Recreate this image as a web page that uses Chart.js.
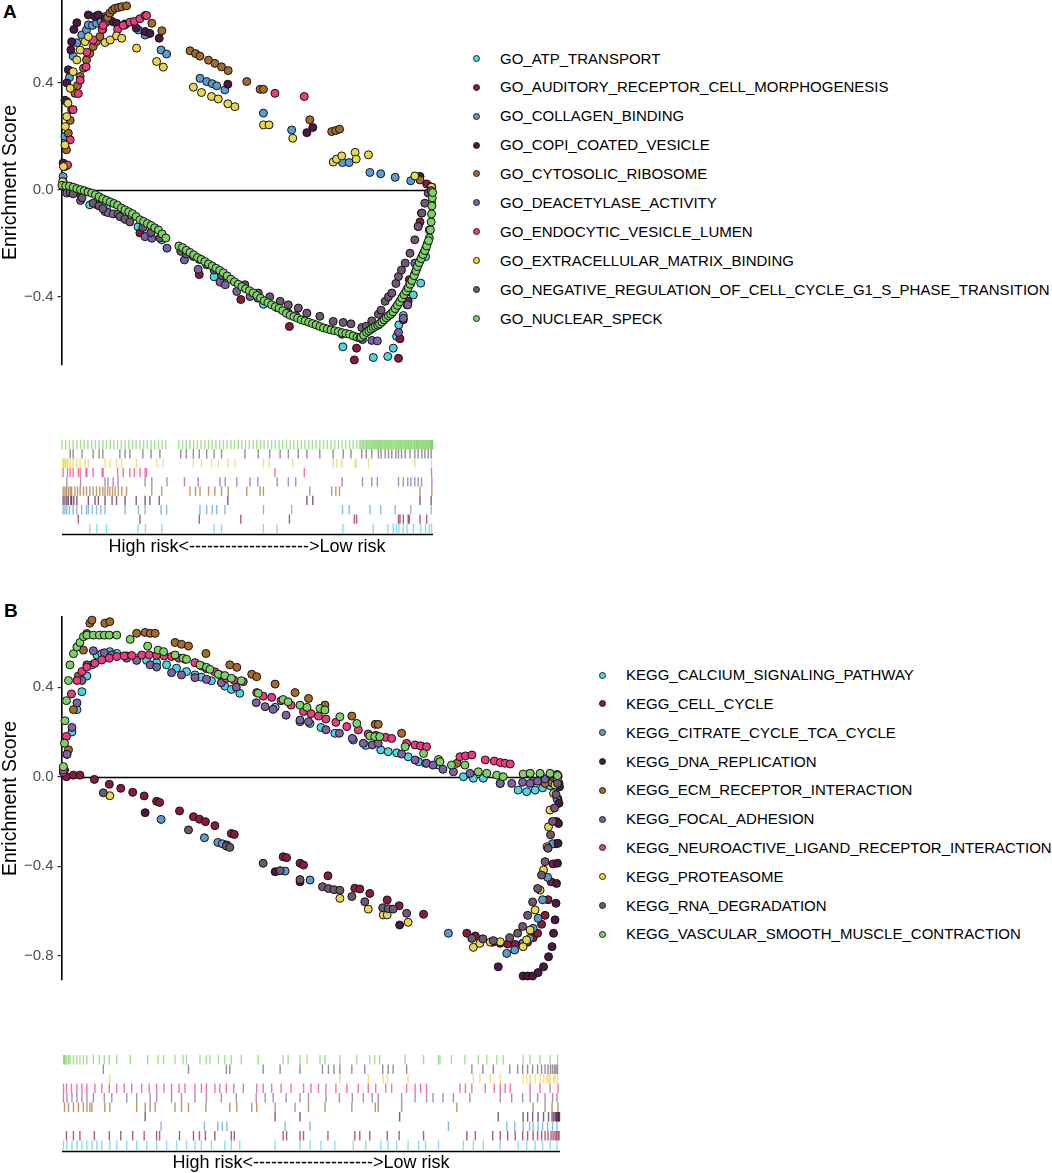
<!DOCTYPE html>
<html><head><meta charset="utf-8">
<script src="https://cdn.jsdelivr.net/npm/chart.js@4.4.0/dist/chart.umd.min.js"></script>
<style>
body{margin:0;background:#fff;font-family:"Liberation Sans",Arial,sans-serif;}
#wrap{position:relative;width:1052px;height:1173px;overflow:hidden;background:#fff;}
canvas{position:absolute;}
.panel{position:absolute;font-weight:bold;font-size:19px;line-height:22px;color:#000;}
.legtxt{position:absolute;font-size:15px;line-height:18px;color:#000;white-space:nowrap;}
.dot{position:absolute;width:5px;height:5px;border-radius:50%;border:1px solid #222;}
.risk{position:absolute;font-size:18px;line-height:22px;text-align:center;white-space:nowrap;color:#000;}
</style></head><body>
<div id="wrap">
  <div class="panel" style="left:3px;top:1px">A</div>
  <div class="panel" style="left:4px;top:600px">B</div>
  <canvas id="sA" width="453" height="405" style="left:0;top:-20px"></canvas>
  <canvas id="rA" width="453" height="133" style="left:0;top:420px"></canvas>
  <canvas id="sB" width="580" height="403" style="left:0;top:597px"></canvas>
  <canvas id="rB" width="580" height="135" style="left:0;top:1035px"></canvas>
  <div class="risk" id="riskA" style="left:47px;width:400px;top:535px"></div>
  <div class="risk" id="riskB" style="left:111px;width:400px;top:1151px"></div>
</div>
<script>
// ---------- shared ----------
const seriesColors = ['#50D3E5','#8A1B3C','#5B9CD2','#4A1A45','#A46B2B','#7D63A6','#EC3B7E','#E9D64E','#6F5871','#7CD264'];
const riskLabel = 'High risk<-------------------->Low risk';
const yTitle = 'Enrichment Score';

// ---------- Panel A (GO) ----------
const namesA = ['GO_ATP_TRANSPORT','GO_AUDITORY_RECEPTOR_CELL_MORPHOGENESIS','GO_COLLAGEN_BINDING','GO_COPI_COATED_VESICLE','GO_CYTOSOLIC_RIBOSOME','GO_DEACETYLASE_ACTIVITY','GO_ENDOCYTIC_VESICLE_LUMEN','GO_EXTRACELLULAR_MATRIX_BINDING','GO_NEGATIVE_REGULATION_OF_CELL_CYCLE_G1_S_PHASE_TRANSITION','GO_NUCLEAR_SPECK'];
const yTicksA = [-0.4, 0, 0.4];
const yRangeA = [-0.655, 0.71];

const goAtpX = [7.5,9.4,12,20.5,22.5,26.9,41,43,54.3,58,75.7,83.9,87.8,89.3,90.2,90.8,92,93,94.7,96.7,98,99,99.6];
const goAtpY = [-0.056,-0.056,-0.07,-0.138,-0.15,-0.187,-0.325,-0.345,-0.428,-0.44,-0.587,-0.627,-0.623,-0.592,-0.548,-0.505,-0.47,-0.43,-0.393,-0.349,-0.25,-0.15,-0.05];
const goAudX = [4.4,21,37,48.2,61.3,78.8,79.4,90.7,91.1,92,93.3,93.6,96.5,98.3];
const goAudY = [-0.01,-0.161,-0.317,-0.41,-0.511,-0.636,-0.592,-0.63,-0.557,-0.486,-0.417,-0.336,-0.12,0.022];
const goColX = [0.3,0.8,1.3,2,3,4,5.3,6.6,7.1,8.2,9.3,10.5,11.6,17,20.6,22.4,26.7,28.2,37.2,39,40.5,41.7,43.9,54.3,61.9,75.6,77.4,83,85.9,89.8,94,99.5];
const goColY = [0.05,0.2,0.33,0.42,0.5,0.55,0.579,0.598,0.617,0.615,0.623,0.63,0.648,0.617,0.598,0.579,0.523,0.508,0.417,0.405,0.397,0.389,0.374,0.287,0.224,0.102,0.102,0.065,0.06,0.047,0.034,0.01];
const goCopiX = [0.3,0.8,1.3,1.7,2.4,2.6,3.2,4,7.1,8.9,9.8,11.6,13.5,14.7,17,20,22.4,23.7,26.2,44.7,66,67.6,96.5,99.5];
const goCopiY = [0.1,0.335,0.4,0.449,0.523,0.554,0.6,0.625,0.654,0.648,0.654,0.64,0.63,0.623,0.62,0.605,0.592,0.585,0.567,0.395,0.214,0.233,0.05,0.01];
const goCytoX = [0.3,0.8,1.2,1.7,2.2,2.6,3.5,4.2,4.9,5.8,6.6,7.5,8.4,9.3,10.2,11,11.6,12.3,12.9,13.6,14.3,15.2,16.1,17.4,24.2,26.9,34.5,36,37.2,39.5,41.2,43,44.8,49.8,53.4,54.3,66.8,72.7,73.8,74.8,96.5,99.7];
const goCytoY = [0.03,0.087,0.15,0.212,0.26,0.3,0.361,0.39,0.424,0.455,0.486,0.51,0.536,0.555,0.573,0.6,0.623,0.645,0.661,0.672,0.679,0.682,0.685,0.688,0.623,0.595,0.52,0.51,0.5,0.485,0.473,0.46,0.446,0.405,0.376,0.376,0.262,0.218,0.222,0.227,0.037,0.01];
const goDeacX = [1.3,5,11.6,12.4,13.8,15.1,22.4,24.2,28.3,33,36.7,42.6,44,47.1,50.7,52.8,58,61,63,75.5,81,83.5,85,90.7,92,93.2,94,95.1,96,96.9,99.7];
const goDeacY = [-0.012,-0.04,-0.081,-0.085,-0.09,-0.091,-0.175,-0.181,-0.218,-0.262,-0.297,-0.345,-0.355,-0.38,-0.399,-0.405,-0.44,-0.46,-0.47,-0.54,-0.56,-0.563,-0.565,-0.533,-0.48,-0.43,-0.35,-0.274,-0.137,-0.087,-0.002];
const goEndoX = [0.3,1.5,2.2,3,4.4,4.9,6.5,6.7,8.4,10.8,11.1,15,16.5,18.3,19.5,21,22.4,22.8,57.4,65.3,99.6];
const goEndoY = [0.02,0.093,0.187,0.3,0.36,0.41,0.46,0.515,0.56,0.6,0.615,0.6,0.615,0.627,0.63,0.64,0.652,0.652,0.361,0.349,0.01];
const goEcmX = [0.2,0.4,0.8,0.9,1.3,1.6,2.2,3,4,4.9,6.2,7.1,11.6,13,14.7,16.1,20.1,25.5,27.3,35.4,37.6,40.3,42.1,44.7,46.6,54.3,55.8,62.2,73.1,74,75.4,79,79.3,82.6,95.1,99.6];
const goEcmY = [0.03,0.087,0.168,0.237,0.274,0.324,0.38,0.442,0.486,0.523,0.554,0.573,0.551,0.56,0.576,0.567,0.53,0.48,0.459,0.384,0.364,0.349,0.34,0.322,0.311,0.243,0.243,0.193,0.104,0.115,0.127,0.14,0.115,0.131,0.052,0.01];
const goNegX = [2.2,3,5.4,8.4,10,11,15.6,17,18.3,21.8,24,26.4,32,33.5,35.4,37,39,41,43,49.3,52.9,56,58.8,61,63.7,66,69.5,73.1,75.8,77.9,80.8,82,83.5,85.3,86,87.1,88,88.9,90,90.7,91.5,92.5,93.8,95.1,96,97,97.8,98.7,99.5];
const goNegY = [-0.01,-0.015,-0.03,-0.05,-0.06,-0.07,-0.1,-0.11,-0.12,-0.14,-0.16,-0.18,-0.23,-0.24,-0.249,-0.26,-0.28,-0.3,-0.32,-0.355,-0.386,-0.4,-0.417,-0.43,-0.442,-0.461,-0.473,-0.492,-0.496,-0.501,-0.515,-0.51,-0.49,-0.465,-0.45,-0.417,-0.4,-0.386,-0.35,-0.324,-0.3,-0.274,-0.237,-0.187,-0.137,-0.087,-0.05,-0.012,-0.003];
const goNucX = [0,1,2,3,4,5,6,7,8,9,10,11,12,13,14,15,16,17,18,19,20,21,22,23,24,25,26,27,28,
  31.5,32.5,33.5,34.5,35.5,36.5,37.5,38.5,39.5,40.5,41.5,42.5,43.5,44.5,45.5,46.5,47.5,48.5,49.5,50.5,51.5,52.5,53.5,54.5,55.5,56.5,57.5,58.5,59.5,60.5,61.5,62.5,63.5,64.5,65.5,66.5,67.5,68.5,69.5,70.5,71.5,72.5,73.5,74.5,75.5,76.5,77.5,78.5,79.5,80.3,
  81,81.7,82.4,83,83.6,84.2,84.8,85.3,85.9,86.5,87.1,87.7,88.3,88.9,89.5,90.1,90.7,91.3,91.9,92.5,93,93.5,94,94.6,95.1,95.6,96,96.5,97,97.5,98,98.5,99,99.3,99.5,99.6,99.7,99.8,99.9,
  80.6,81.3,82.1,82.7,83.3,83.9,84.5,85.1,85.6,86.2,86.8,87.4,88,88.6,89.2,89.8,90.4,91,91.6,92.2,92.8,93.3,93.8,94.3,94.9,95.4,95.8,96.3,96.8,97.3,97.8,98.3,98.8];
const goNucY = [0.017,0.015,0.014,0.01,0.005,0.001,-0.003,-0.008,-0.012,-0.018,-0.026,-0.033,-0.039,-0.045,-0.051,-0.058,-0.068,-0.075,-0.082,-0.089,-0.1,-0.112,-0.118,-0.126,-0.133,-0.142,-0.15,-0.165,-0.18,
  -0.21,-0.216,-0.226,-0.234,-0.243,-0.253,-0.26,-0.268,-0.277,-0.285,-0.293,-0.301,-0.31,-0.322,-0.334,-0.344,-0.353,-0.362,-0.37,-0.377,-0.385,-0.395,-0.405,-0.415,-0.422,-0.43,-0.437,-0.443,-0.452,-0.462,-0.469,-0.474,-0.48,-0.486,-0.49,-0.495,-0.5,-0.505,-0.511,-0.516,-0.52,-0.524,-0.527,-0.53,-0.534,-0.537,-0.54,-0.546,-0.551,-0.554,
  -0.548,-0.536,-0.53,-0.524,-0.518,-0.513,-0.508,-0.505,-0.497,-0.49,-0.481,-0.475,-0.468,-0.461,-0.45,-0.438,-0.425,-0.412,-0.398,-0.386,-0.372,-0.36,-0.347,-0.33,-0.312,-0.295,-0.28,-0.265,-0.25,-0.235,-0.22,-0.2,-0.18,-0.15,-0.12,-0.09,-0.06,-0.03,-0.01,
  -0.551,-0.543,-0.533,-0.527,-0.521,-0.515,-0.51,-0.506,-0.501,-0.494,-0.486,-0.478,-0.471,-0.465,-0.456,-0.444,-0.432,-0.419,-0.405,-0.392,-0.379,-0.366,-0.353,-0.339,-0.321,-0.303,-0.287,-0.272,-0.257,-0.242,-0.227,-0.21,-0.19];

// ---------- Panel B (KEGG) ----------
const namesB = ['KEGG_CALCIUM_SIGNALING_PATHWAY','KEGG_CELL_CYCLE','KEGG_CITRATE_CYCLE_TCA_CYCLE','KEGG_DNA_REPLICATION','KEGG_ECM_RECEPTOR_INTERACTION','KEGG_FOCAL_ADHESION','KEGG_NEUROACTIVE_LIGAND_RECEPTOR_INTERACTION','KEGG_PROTEASOME','KEGG_RNA_DEGRADATION','KEGG_VASCULAR_SMOOTH_MUSCLE_CONTRACTION'];
const yTicksB = [-0.8, -0.4, 0, 0.4];
const yRangeB = [-0.909, 0.714];

const keggCalX = [0.3,1,2,3,4,5,6,7,8,9.6,11,13,15,17,19,21,23,25,26.7,28,30,32.7,34,35.7,42.8,47.8,49.8,52,54.8,58.5,61,64,65.5,67.2,69.5,71.6,73,75.6,80.6,82.6,84.6,88,91.6,93.3,95,96.5,98,99.4];
const keggCalY = [0.02,0.1,0.2,0.3,0.38,0.45,0.5,0.544,0.55,0.559,0.551,0.54,0.53,0.52,0.51,0.5,0.485,0.47,0.455,0.445,0.429,0.405,0.39,0.373,0.31,0.246,0.238,0.22,0.194,0.164,0.14,0.12,0.112,0.107,0.089,0.067,0.06,0.052,0,-0.007,-0.007,-0.03,-0.06,-0.067,-0.06,-0.05,-0.04,-0.01];
const keggCellX = [0.9,2.3,3.6,6.5,9.5,11.8,14.2,16.5,19,19.6,23.6,26.4,27.6,28.8,30.7,34,34.6,44.4,45.1,47.8,48.5,53.4,58.8,59.8,61.8,65.3,67.7,72.6,81.3,83,86.5,88,89.5,91,92.5,93.5,94.6,95.5,96.3,97,97.6,98.2,98.6,99,99.3,99.6,99.8];
const keggCellY = [0,0.007,0.007,-0.012,-0.034,-0.052,-0.07,-0.086,-0.11,-0.115,-0.153,-0.179,-0.19,-0.201,-0.219,-0.254,-0.258,-0.358,-0.362,-0.387,-0.395,-0.443,-0.499,-0.502,-0.522,-0.551,-0.577,-0.615,-0.7,-0.712,-0.74,-0.745,-0.748,-0.75,-0.745,-0.74,-0.72,-0.7,-0.66,-0.62,-0.55,-0.47,-0.39,-0.3,-0.2,-0.1,-0.03];
const keggCitX = [19.9,28.6,31.3,32.2,33.1,44.8,49.8,77.6,89.3,90.9,92.6,93.9,94.6,95.6,96.5,97.5,98.5,99.4];
const keggCitY = [-0.191,-0.273,-0.294,-0.3,-0.305,-0.422,-0.462,-0.7,-0.79,-0.775,-0.745,-0.723,-0.678,-0.633,-0.55,-0.45,-0.3,-0.1];
const keggDnaX = [16.7,42.8,47.8,67.8,87.6,92.6,93.5,94.5,95.6,96.7,97.7,98.4,98.7,99,99.2,99.3,99.5,99.6,99.7,99.8,99.9];
const keggDnaY = [-0.161,-0.425,-0.47,-0.663,-0.85,-0.891,-0.891,-0.891,-0.876,-0.85,-0.805,-0.76,-0.7,-0.64,-0.566,-0.477,-0.387,-0.298,-0.209,-0.119,-0.045];
const keggEcmX = [0.5,1.3,2.3,3.3,4.3,5,5.6,6,8.6,9.6,15,16.7,17.7,18.7,22.7,24,25.4,28.9,33.7,35.1,38.1,39.1,42.8,46.8,49.5,52.8,58.2,62.9,63.5,68.2,79.3,94.6,97,98.4,99.6];
const keggEcmY = [0.03,0.12,0.3,0.45,0.566,0.64,0.686,0.7,0.686,0.693,0.641,0.645,0.641,0.641,0.6,0.592,0.584,0.551,0.5,0.489,0.458,0.447,0.414,0.376,0.35,0.32,0.271,0.234,0.234,0.194,0.06,-0.02,-0.03,-0.027,0];
const keggFocX = [0.3,1,2,3,4,5,6.3,8.5,10,13,15,17.7,19,22,24,26.7,29,32,35,39,40.8,42.4,45,47.8,49.5,53,55.7,58.3,60.5,62.3,63.5,68.2,70.9,73.2,74.5,76.5,78.6,81.9,88,90.3,92.5,94,95.5,97,98.5,99.4];
const keggFocY = [0.02,0.1,0.22,0.33,0.43,0.5,0.563,0.554,0.545,0.53,0.52,0.5,0.49,0.465,0.455,0.443,0.435,0.42,0.4,0.331,0.313,0.301,0.275,0.253,0.246,0.21,0.194,0.171,0.149,0.142,0.149,0.101,0.075,0.06,0.052,0.033,0.022,0.015,-0.03,-0.03,-0.025,-0.03,-0.02,-0.01,0,0.01];
const keggNeuX = [0.3,0.9,1.9,3,4,5,6.6,8,9.5,11,12.5,14,16,17.5,19,20.5,22,23.5,24.7,26.7,28,29,30.7,31.7,33,34.5,36.4,39.1,40.4,42.1,44,46,48.5,50,51.5,53,55,57.2,59.5,61.5,63,65,66.2,69.2,70.9,72,73.2,79.9,81,82.3,85,86.8,88,89,90,94,96,98,99.6];
const keggNeuY = [0.03,0.18,0.37,0.43,0.47,0.49,0.507,0.522,0.53,0.537,0.54,0.542,0.544,0.545,0.543,0.54,0.537,0.53,0.525,0.51,0.495,0.483,0.469,0.455,0.44,0.432,0.425,0.376,0.36,0.355,0.34,0.32,0.291,0.282,0.271,0.258,0.243,0.224,0.209,0.191,0.185,0.176,0.171,0.149,0.142,0.138,0.134,0.089,0.093,0.097,0.075,0.07,0.063,0.06,0.057,0.015,0.012,0.01,0.005];
const keggProX = [9.6,55.8,61.5,64.5,65.3,69.5,82.6,83.9,86,88,92.6,93.3,94,95,96,96.7,97.4,97.7,98,98.7,99,99.5];
const keggProY = [-0.085,-0.544,-0.592,-0.618,-0.618,-0.651,-0.763,-0.745,-0.74,-0.738,-0.76,-0.73,-0.686,-0.596,-0.507,-0.417,-0.313,-0.224,-0.149,-0.075,-0.037,-0.01];
const keggRnaX = [8.3,25.4,33,33.7,40.4,43.8,47.8,52.3,53.5,54.6,55.8,58.2,60.8,64.4,65.5,66.5,69.2,82.3,84.5,86.6,89.9,91.5,92.5,93.5,94.5,95.5,96.3,97,97.6,98.1,98.5,98.9,99.2,99.5];
const keggRnaY = [-0.072,-0.238,-0.31,-0.316,-0.387,-0.42,-0.46,-0.492,-0.5,-0.505,-0.508,-0.536,-0.559,-0.586,-0.59,-0.592,-0.611,-0.723,-0.725,-0.733,-0.72,-0.7,-0.67,-0.62,-0.56,-0.5,-0.44,-0.38,-0.32,-0.26,-0.2,-0.14,-0.08,-0.03];
const keggVasX = [0.3,0.5,0.6,0.9,1.3,1.6,2.3,3,3.6,4.3,5,6.3,7.5,8.5,9.5,11,13.7,17.2,19.3,20.4,22.7,24.3,25,27.7,29,29.7,31.4,32.7,34,36,39.4,44.4,45.4,47.8,49.2,51.8,52.8,55.8,59.2,61.8,62.8,63.8,68.9,72.6,75.6,75.9,78.2,80.9,83.6,85.3,87.3,88.6,92.6,94,96,98,99.5];
const keggVasY = [0.045,0.15,0.25,0.34,0.43,0.5,0.55,0.58,0.6,0.626,0.633,0.633,0.633,0.633,0.633,0.633,0.614,0.584,0.566,0.559,0.544,0.53,0.525,0.499,0.489,0.48,0.458,0.452,0.44,0.429,0.373,0.345,0.335,0.32,0.31,0.305,0.298,0.268,0.238,0.182,0.179,0.179,0.134,0.104,0.077,0.067,0.052,0.052,0.022,0.015,0.007,0,0.012,0.015,0.015,0.015,0.005];

// ---------- build ----------
const FONT = '"Liberation Sans", Arial, Helvetica, sans-serif';
const seriesA = [[goAtpX,goAtpY],[goAudX,goAudY],[goColX,goColY],[goCopiX,goCopiY],[goCytoX,goCytoY],[goDeacX,goDeacY],[goEndoX,goEndoY],[goEcmX,goEcmY],[goNegX,goNegY],[goNucX,goNucY]]
  .map((p,i)=>({name:namesA[i], x:p[0], y:p[1]}));
const seriesB = [[keggCalX,keggCalY],[keggCellX,keggCellY],[keggCitX,keggCitY],[keggDnaX,keggDnaY],[keggEcmX,keggEcmY],[keggFocX,keggFocY],[keggNeuX,keggNeuY],[keggProX,keggProY],[keggRnaX,keggRnaY],[keggVasX,keggVasY]]
  .map((p,i)=>({name:namesB[i], x:p[0], y:p[1]}));

function rgba(hex, a){ const n=parseInt(hex.slice(1),16); return `rgba(${(n>>16)&255},${(n>>8)&255},${n&255},${a})`; }
function fmt(v){ if (Math.abs(v)<1e-9) return '0.0'; return (v<0?'\u2212':'') + Math.abs(v).toFixed(1); }

const zeroLine = { id:'zeroLine', beforeDatasetsDraw(chart){
  const {ctx, chartArea:a, scales:{y}} = chart; const py = Math.round(y.getPixelForValue(0))+0.5;
  ctx.save(); ctx.strokeStyle='#000'; ctx.lineWidth=1.6; ctx.beginPath(); ctx.moveTo(a.left, py); ctx.lineTo(a.right, py); ctx.stroke(); ctx.restore(); } };
const baseLine = { id:'baseLine', afterDraw(chart){
  const {ctx, chartArea:a} = chart; ctx.save(); ctx.strokeStyle='#000'; ctx.lineWidth=1.7; ctx.beginPath();
  ctx.moveTo(a.left, a.bottom+1.5); ctx.lineTo(a.right, a.bottom+1.5); ctx.stroke(); ctx.restore(); } };

function scatterChart(id, series, yRange, yTicks){
  const n = series.length;
  return new Chart(document.getElementById(id), {
    type:'scatter',
    data:{ datasets: series.map((s,i)=>{
      const m = Math.min(s.x.length, s.y.length);
      return { label:s.name, data: s.x.slice(0,m).map((x,j)=>({x:x, y:s.y[j]})),
        backgroundColor:seriesColors[i], pointBackgroundColor:seriesColors[i],
        borderColor:'#111', pointBorderColor:'#111', borderWidth:1, pointBorderWidth:1,
        pointRadius:4, pointHoverRadius:4, order:n-1-i, clip:false, showLine:false };
    })},
    options:{
      responsive:false, animation:false, events:[], devicePixelRatio:1,
      layout:{padding:{left:0,right:20,top:20,bottom:20}},
      plugins:{legend:{display:false}, tooltip:{enabled:false}},
      scales:{
        x:{type:'linear', min:0, max:100, display:false},
        y:{type:'linear', min:yRange[0], max:yRange[1],
          afterBuildTicks:(sc)=>{ sc.ticks = yTicks.map(v=>({value:v})); },
          afterFit:(sc)=>{ sc.width = 62; },
          ticks:{color:'#4D4D4D', font:{size:15, family:FONT}, padding:4, callback:(v)=>fmt(v)},
          grid:{drawOnChartArea:false, drawTicks:true, tickLength:4.5, color:'#333', lineWidth:1.2},
          border:{display:true, color:'#000', width:1.6},
          title:{display:true, text:yTitle, color:'#000', font:{size:19.5, family:FONT}, padding:{top:-1,bottom:0}}
        }
      }
    },
    plugins:[zeroLine]
  });
}

function rugChart(id, series, rowH){
  const n = series.length;
  return new Chart(document.getElementById(id), {
    type:'scatter',
    data:{ datasets: series.map((s,i)=>({
      label:s.name, data: s.x.map(x=>({x:x, y:i+0.5})),
      pointStyle:'line', pointRotation:90, rotation:90, pointRadius:rowH/2, pointHoverRadius:rowH/2,
      borderColor:rgba(seriesColors[i],0.7), pointBorderColor:rgba(seriesColors[i],0.7),
      borderWidth:1.4, pointBorderWidth:1.4, backgroundColor:'transparent', pointBackgroundColor:'transparent',
      clip:false, showLine:false }))},
    options:{
      responsive:false, animation:false, events:[], devicePixelRatio:1,
      layout:{padding:{left:62,right:20,top:20,bottom:20}},
      plugins:{legend:{display:false}, tooltip:{enabled:false}},
      scales:{ x:{type:'linear', min:0, max:100, display:false}, y:{type:'linear', min:0, max:n, display:false} }
    },
    plugins:[baseLine]
  });
}

function legend(series, markerX, textX, y0, dy){
  const wrap = document.getElementById('wrap');
  series.forEach((s,i)=>{
    const cy = y0 + i*dy;
    const d = document.createElement('div'); d.className='dot';
    d.style.left=(markerX-3.5)+'px'; d.style.top=(cy-3.5)+'px'; d.style.background=seriesColors[i];
    wrap.appendChild(d);
    const t = document.createElement('div'); t.className='legtxt';
    t.style.left=textX+'px'; t.style.top=(cy-8.8)+'px'; t.textContent=s.name;
    wrap.appendChild(t);
  });
}

scatterChart('sA', seriesA, yRangeA, yTicksA);
rugChart('rA', seriesA, 9.3);
scatterChart('sB', seriesB, yRangeB, yTicksB);
rugChart('rB', seriesB, 9.5);
legend(seriesA, 476, 500, 58.3, 28.9);
legend(seriesB, 602, 626, 675, 28.8);
document.getElementById('riskA').textContent = riskLabel;
document.getElementById('riskB').textContent = riskLabel;
</script>
</body></html>
